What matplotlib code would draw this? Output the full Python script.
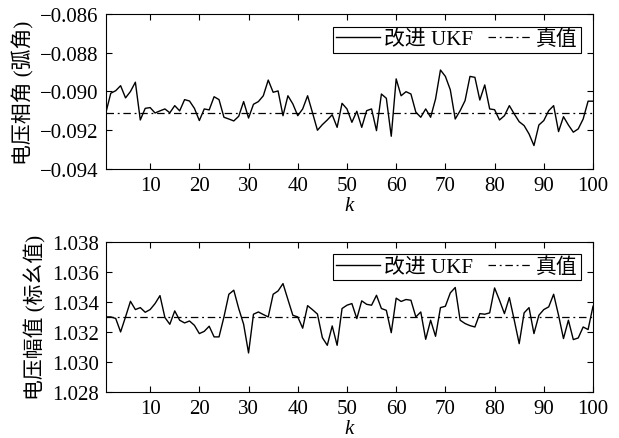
import numpy as np
import matplotlib
matplotlib.use("Agg")
import matplotlib.pyplot as plt

plt.rcParams['font.family'] = ['Liberation Serif', 'Noto Sans CJK SC']
plt.rcParams['axes.unicode_minus'] = True

k = np.arange(1, 101)

# voltage phase angle estimates (rad)
angle_ukf = [
    -0.0911, -0.09009, -0.08996, -0.0897, -0.09033, -0.0900, -0.08952, -0.09147, -0.09087, -0.09083,
    -0.09111, -0.0910, -0.0909, -0.0911, -0.09073, -0.0910, -0.09042, -0.09049, -0.09087, -0.09150,
    -0.0909, -0.09095, -0.09027, -0.09042, -0.09133, -0.09142, -0.09152, -0.09128, -0.09052, -0.09137,
    -0.09066, -0.09052, -0.09022, -0.08941, -0.09004, -0.08997, -0.09125, -0.09022, -0.09064, -0.09125,
    -0.0909, -0.09022, -0.0911, -0.0920, -0.09171, -0.09147, -0.0912, -0.09185, -0.09061, -0.0909,
    -0.09159, -0.09102, -0.09185, -0.09099, -0.0909, -0.09202, -0.09013, -0.09035, -0.09231, -0.08935,
    -0.09022, -0.09001, -0.09013, -0.09107, -0.09133, -0.0909, -0.09133, -0.09039, -0.08889, -0.08922,
    -0.08991, -0.09142, -0.09099, -0.09047, -0.08922, -0.08927, -0.09044, -0.08966, -0.0909, -0.09094,
    -0.09147, -0.09125, -0.09073, -0.09116, -0.09156, -0.09176, -0.09219, -0.09279, -0.09173, -0.0915,
    -0.09099, -0.09073, -0.09207, -0.0913, -0.09173, -0.0921, -0.09193, -0.09142, -0.0905, -0.0905,
]
angle_true = -0.0911

# voltage magnitude estimates (p.u.)
mag_ukf = [
    1.0330, 1.0330, 1.0329, 1.0320, 1.0330, 1.03404, 1.03349, 1.03362, 1.03331, 1.03349,
    1.03389, 1.03442, 1.03296, 1.03251, 1.0334, 1.03278, 1.0326, 1.03273, 1.03244, 1.03189,
    1.03204, 1.03238, 1.03167, 1.03167, 1.0330, 1.03451, 1.03478, 1.03356, 1.03251, 1.0306,
    1.03318, 1.03333, 1.03316, 1.0330, 1.03451, 1.03473, 1.03522, 1.03416, 1.03311, 1.0330,
    1.03225, 1.03375, 1.03348, 1.03319, 1.03162, 1.03111, 1.0324, 1.03111, 1.03356, 1.03378,
    1.03389, 1.03289, 1.03407, 1.03384, 1.03378, 1.03444, 1.03356, 1.03344, 1.03195, 1.03425,
    1.03403, 1.03416, 1.03411, 1.0330, 1.03333, 1.03151, 1.03278, 1.03171, 1.03362, 1.03371,
    1.0346, 1.03496, 1.03278, 1.03256, 1.03242, 1.03233, 1.03322, 1.03318, 1.03327, 1.03493,
    1.03411, 1.03322, 1.03429, 1.03278, 1.03122, 1.03327, 1.03362, 1.03189, 1.03311, 1.03349,
    1.03367, 1.03451, 1.03311, 1.03156, 1.03278, 1.03149, 1.0316, 1.03233, 1.03216, 1.03371,
]
mag_true = 1.033

fig = plt.figure(figsize=(6.19, 4.39), dpi=100)
ax1 = fig.add_axes([0.171, 0.6128, 0.787, 0.353])
ax2 = fig.add_axes([0.171, 0.1048, 0.787, 0.342])

fs = 15
panels = [
    (ax1, angle_ukf, angle_true, (-0.094, -0.086), np.arange(-0.094, -0.0859, 0.002),
     "%.3f", "电压相角 (弧角)"),
    (ax2, mag_ukf, mag_true, (1.028, 1.038), np.arange(1.028, 1.0381, 0.002),
     "%.3f", "电压幅值 (标幺值)"),
]

for ax, est, true, ylim, yt, fmt, ylab in panels:
    ax.plot(k, est, color="black", lw=1.0, label="改进 UKF")
    ax.plot(k, np.full(len(k), true), color="black", lw=0.9,
            dashes=(6, 3, 1.5, 3), label="真值")
    ax.set_xlim(1, 100)
    ax.set_ylim(*ylim)
    ax.set_xticks(np.arange(10, 101, 10))
    ax.set_yticks(yt)
    ax.set_yticklabels([(fmt % v).replace("-", "\u2212") for v in yt])
    ax.tick_params(direction="in", top=True, right=True, length=4, width=0.8,
                   labelsize=fs, pad=5)
    for s in ax.spines.values():
        s.set_linewidth(0.8)
    ax.set_xlabel("k", fontsize=fs, fontstyle="italic", labelpad=1)
    ax.set_ylabel(ylab, fontsize=fs, labelpad=4)
    leg = ax.legend(loc="upper right", ncol=2, fontsize=fs, frameon=True,
                    fancybox=False, edgecolor="black", framealpha=1,
                    handlelength=2.1, handletextpad=0.2, columnspacing=0.7,
                    borderpad=0.15, borderaxespad=0.6)
    leg.get_frame().set_linewidth(0.8)

fig.savefig("out.png", dpi=100)
